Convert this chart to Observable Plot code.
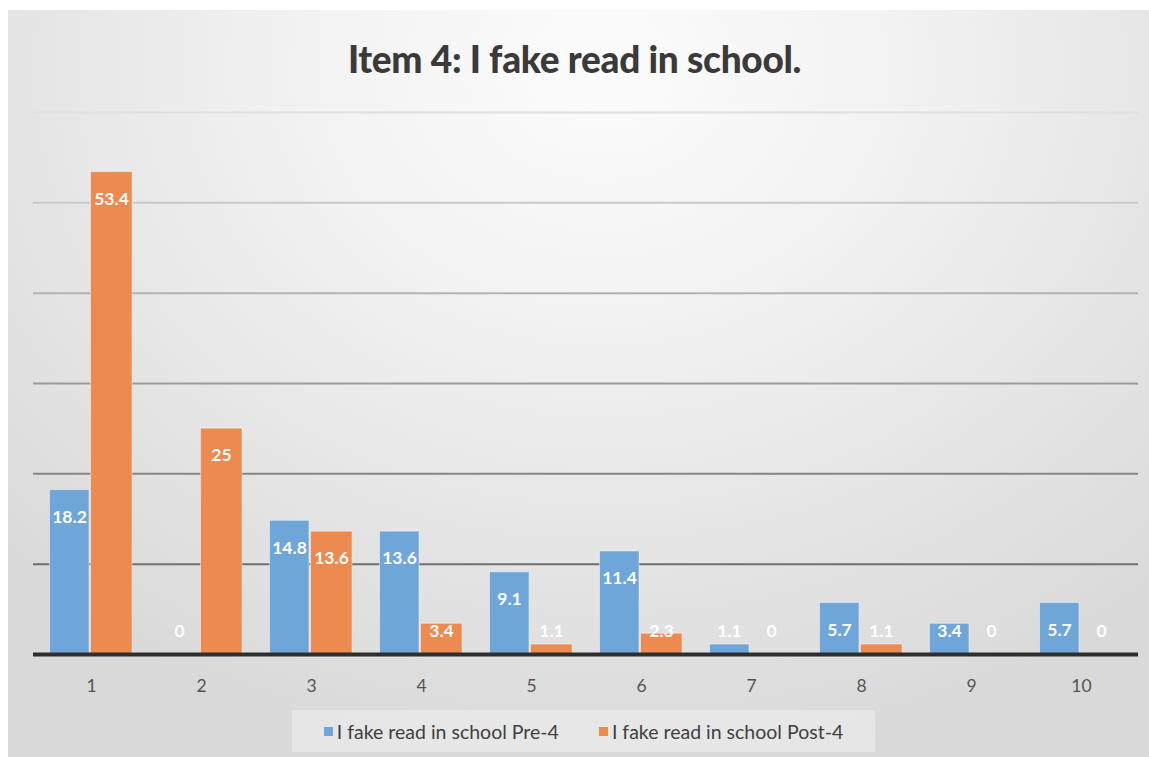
<!DOCTYPE html>
<html>
<head>
<meta charset="utf-8">
<script src="https://cdn.jsdelivr.net/npm/d3@7"></script>
<script src="https://cdn.jsdelivr.net/npm/@observablehq/plot@0.6"></script>
<style>
  html, body { margin: 0; padding: 0; background: #ffffff; }
  #box {
    position: absolute; left: 8px; top: 10px; width: 1141px; height: 747px;
    background: radial-gradient(ellipse 75% 95% at 52% 8%, #fcfcfc 0%, #f2f2f2 35%, #e4e4e4 70%, #d9d9d9 100%);
  }
  #title {
    position: absolute; left: 0; top: 36px; width: 1149px; text-align: center;
    font-family: Lato, "Open Sans", sans-serif; font-weight: 900; font-size: 37px; color: #3a3a3a;
    letter-spacing: -0.3px;
  }
  #chart { position: absolute; left: 0; top: 95px; }
  #legend {
    position: absolute; left: 292px; top: 710px; width: 583px; height: 42px;
    background: rgba(240,240,240,0.55);
    display: flex; align-items: center; justify-content: center; gap: 40px;
    font-family: Lato, "Open Sans", sans-serif; font-size: 19.5px; color: #3f3f3f;
  }
  .item { display: flex; align-items: center; gap: 4px; }
  .sw { width: 9px; height: 9px; display: inline-block; }
</style>
</head>
<body>
<div id="box"></div>
<div id="title">Item 4: I fake read in school.</div>
<div id="chart"></div>
<div id="legend"></div>
<script>
const categories = ["1", "2", "3", "4", "5", "6", "7", "8", "9", "10"];
const preValues  = [18.2, 0, 14.8, 13.6, 9.1, 11.4, 1.1, 5.7, 3.4, 5.7];
const postValues = [53.4, 25, 13.6, 3.4, 1.1, 2.3, 0, 1.1, 0, 0];
const seriesNames = ["I fake read in school Pre-4", "I fake read in school Post-4"];
const seriesColors = ["#6fa6d9", "#ec8a4f"];
const gridTicks = [10, 20, 30, 40, 50, 60];

const pre = categories.map((c, i) => ({category: c, value: preValues[i]}));
const post = categories.map((c, i) => ({category: c, value: postValues[i]}));

const labelY = d => Math.max(d.value - 3, 2.55);
const gridColor = d3.scaleLinear().domain([10, 60]).range(["#6f6f6f", "#e0e0e0"]);

const plot = Plot.plot({
  width: 1149,
  height: 610,
  marginLeft: 33,
  marginRight: 11,
  marginTop: 17,
  marginBottom: 51,
  style: {background: "transparent", fontFamily: "Lato, 'Open Sans', sans-serif"},
  x: {domain: categories, padding: 0, label: null, tickSize: 0, tickPadding: 20},
  y: {domain: [0, 60], axis: null},
  marks: [
    Plot.ruleY(gridTicks, {stroke: d => gridColor(d), strokeWidth: 2}),
    Plot.barY(pre, {x: "category", y: "value", fill: seriesColors[0], insetLeft: 13.5, insetRight: 57, stroke: "#ffffff", strokeOpacity: 0.45, strokeWidth: 1}),
    Plot.barY(post, {x: "category", y: "value", fill: seriesColors[1], insetLeft: 54.5, insetRight: 14, stroke: "#ffffff", strokeOpacity: 0.45, strokeWidth: 1}),
    Plot.ruleY([0], {stroke: "#2e2e2e", strokeWidth: 4}),
    Plot.text(pre, {x: "category", y: labelY, text: d => String(d.value), dx: -22, fill: "#ffffff", fontWeight: "bold", fontSize: 17.5}),
    Plot.text(post, {x: "category", y: labelY, text: d => String(d.value), dx: 20, fill: "#ffffff", fontWeight: "bold", fontSize: 17.5}),
    Plot.axisX({tickSize: 0, tickPadding: 25, fontSize: 17.5, fill: "#555555", label: null})
  ]
});
document.getElementById("chart").appendChild(plot);

const legend = document.getElementById("legend");
seriesNames.forEach((name, i) => {
  const it = document.createElement("div");
  it.className = "item";
  const sw = document.createElement("span");
  sw.className = "sw";
  sw.style.background = seriesColors[i];
  const tx = document.createElement("span");
  tx.textContent = name;
  it.appendChild(sw); it.appendChild(tx);
  legend.appendChild(it);
});
</script>
</body>
</html>
